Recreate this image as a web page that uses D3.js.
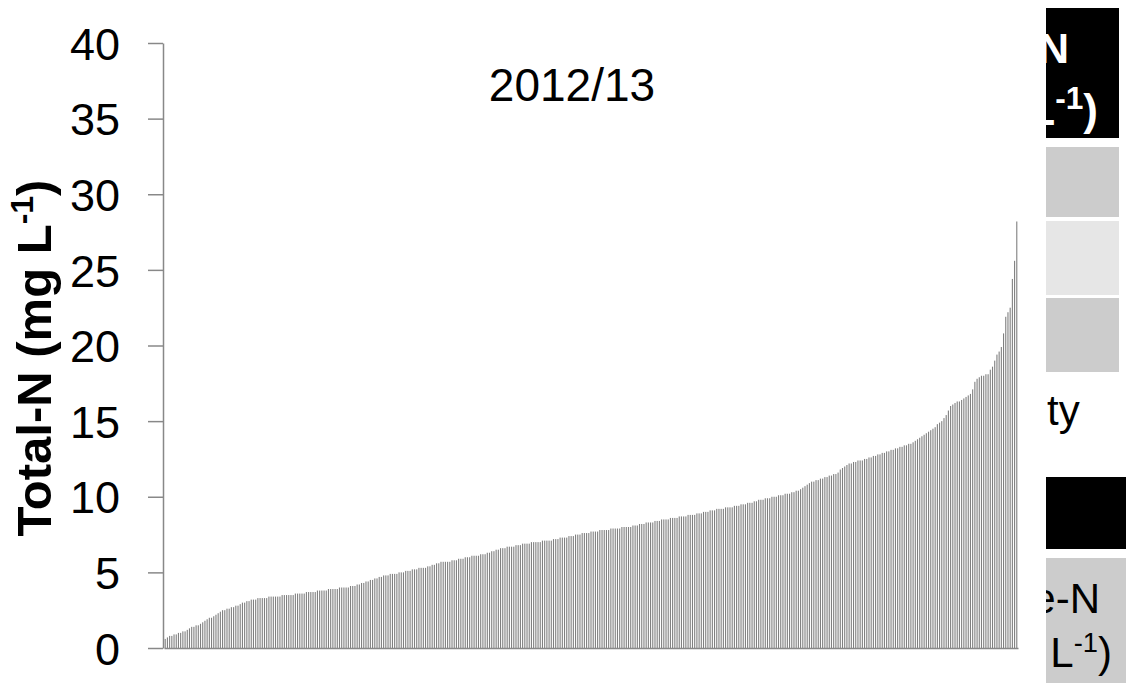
<!DOCTYPE html>
<html lang="en">
<head>
  <meta charset="UTF-8">
  <title>Total-N 2012/13</title>
  <style>
    body {
      margin: 0;
      padding: 0;
      background: #fff;
      font-family: "Liberation Sans", Arial, sans-serif;
    }
    svg { display: block; }
    .axis path, .axis line { stroke: #888; stroke-width: 1.5px; }
    .axis text { font-family: "Liberation Sans", Arial, sans-serif; fill: #000; }
  </style>
</head>
<body>
  <svg width="1126" height="683"></svg>

  <script src="https://d3js.org/d3.v7.min.js"></script>
  <script>
    // sorted Total-N values (mg L-1), one per site
    const totalN = [
      0.6, 0.7, 0.8, 0.8, 0.9, 0.9, 1.0, 1.0, 1.1, 1.1,
      1.2, 1.3, 1.4, 1.4, 1.5, 1.5, 1.6, 1.7, 1.8, 1.9,
      2.0, 2.0, 2.1, 2.2, 2.3, 2.4, 2.5, 2.5, 2.6, 2.6,
      2.7, 2.7, 2.8, 2.8, 2.9, 3.0, 3.0, 3.1, 3.1, 3.2,
      3.2, 3.2, 3.3, 3.3, 3.3, 3.3, 3.3, 3.4, 3.4, 3.4,
      3.4, 3.4, 3.4, 3.5, 3.5, 3.5, 3.5, 3.5, 3.5, 3.6,
      3.6, 3.6, 3.6, 3.6, 3.7, 3.7, 3.7, 3.7, 3.7, 3.8,
      3.8, 3.8, 3.8, 3.8, 3.9, 3.9, 3.9, 3.9, 3.9, 4.0,
      4.0, 4.0, 4.0, 4.0, 4.1, 4.1, 4.1, 4.2, 4.2, 4.3,
      4.3, 4.4, 4.4, 4.5, 4.5, 4.6, 4.6, 4.7, 4.7, 4.8,
      4.8, 4.8, 4.9, 4.9, 4.9, 4.9, 5.0, 5.0, 5.0, 5.1,
      5.1, 5.1, 5.2, 5.2, 5.2, 5.3, 5.3, 5.3, 5.3, 5.4,
      5.4, 5.5, 5.5, 5.6, 5.6, 5.7, 5.7, 5.7, 5.7, 5.7,
      5.8, 5.8, 5.8, 5.9, 5.9, 5.9, 6.0, 6.0, 6.0, 6.1,
      6.1, 6.1, 6.1, 6.2, 6.2, 6.2, 6.3, 6.3, 6.4, 6.4,
      6.5, 6.5, 6.6, 6.6, 6.6, 6.7, 6.7, 6.7, 6.7, 6.8,
      6.8, 6.8, 6.9, 6.9, 6.9, 6.9, 7.0, 7.0, 7.0, 7.0,
      7.0, 7.1, 7.1, 7.1, 7.1, 7.1, 7.2, 7.2, 7.2, 7.3,
      7.3, 7.3, 7.3, 7.4, 7.4, 7.4, 7.5, 7.5, 7.5, 7.6,
      7.6, 7.6, 7.6, 7.7, 7.7, 7.7, 7.7, 7.8, 7.8, 7.8,
      7.8, 7.8, 7.9, 7.9, 7.9, 7.9, 7.9, 8.0, 8.0, 8.0,
      8.0, 8.0, 8.1, 8.1, 8.1, 8.2, 8.2, 8.2, 8.3, 8.3,
      8.3, 8.3, 8.4, 8.4, 8.4, 8.5, 8.5, 8.5, 8.5, 8.6,
      8.6, 8.6, 8.6, 8.7, 8.7, 8.7, 8.7, 8.8, 8.8, 8.8,
      8.8, 8.9, 8.9, 8.9, 9.0, 9.0, 9.0, 9.1, 9.1, 9.1,
      9.2, 9.2, 9.2, 9.2, 9.3, 9.3, 9.3, 9.3, 9.4, 9.4,
      9.4, 9.5, 9.5, 9.5, 9.6, 9.6, 9.6, 9.7, 9.7, 9.8,
      9.8, 9.8, 9.9, 9.9, 9.9, 10.0, 10.0, 10.0, 10.1, 10.1,
      10.1, 10.2, 10.2, 10.2, 10.3, 10.3, 10.4, 10.4, 10.5, 10.6,
      10.7, 10.8, 10.9, 11.0, 11.0, 11.1, 11.1, 11.2, 11.2, 11.3,
      11.3, 11.4, 11.4, 11.5, 11.5, 11.6, 11.8, 11.9, 12.0, 12.1,
      12.2, 12.2, 12.3, 12.3, 12.4, 12.4, 12.4, 12.5, 12.5, 12.6,
      12.6, 12.7, 12.7, 12.8, 12.8, 12.9, 12.9, 13.0, 13.0, 13.1,
      13.1, 13.2, 13.2, 13.3, 13.3, 13.4, 13.4, 13.5, 13.5, 13.6,
      13.7, 13.8, 13.9, 14.0, 14.1, 14.2, 14.3, 14.4, 14.5, 14.6,
      14.8, 14.9, 15.0, 15.2, 15.4, 15.7, 16.0, 16.1, 16.2, 16.3,
      16.3, 16.4, 16.5, 16.6, 16.7, 16.8, 17.1, 17.6, 17.8, 17.9,
      18.0, 18.0, 18.1, 18.1, 18.4, 18.6, 19.0, 19.4, 19.6, 19.9,
      20.8, 21.9, 22.2, 22.5, 24.4, 25.6, 28.2
    ];
    const yTicks = [0, 5, 10, 15, 20, 25, 30, 35, 40];
    const title = "2012/13";

    // pieces of the table that sits behind the chart, cut off at its left edge
    const cellTops = [8, 147, 221, 298, 477, 558];
    const cellBottoms = [138, 217, 295, 372, 549, 683];
    const cellRights = [1119, 1119, 1119, 1119, 1126, 1126];
    const cellFills = ["#000", "#ccc", "#e6e6e6", "#ccc", "#000", "#ccc"];

    const svg = d3.select("svg");
    const font = "'Liberation Sans', Arial, sans-serif";

    const y = d3.scaleLinear().domain([0, 40]).range([648, 43]);
    const x = d3.scaleBand()
      .domain(d3.range(totalN.length))
      .range([164, 1018])
      .paddingInner(0.5)
      .paddingOuter(0.3);

    // bars
    svg.append("g")
      .selectAll("rect")
      .data(totalN)
      .join("rect")
      .attr("x", (d, i) => x(i))
      .attr("width", x.bandwidth())
      .attr("y", d => y(d))
      .attr("height", d => y(0) - y(d))
      .attr("fill", "#808080");

    // y axis
    const yAxis = svg.append("g")
      .attr("class", "axis")
      .attr("transform", "translate(163,0)")
      .call(d3.axisLeft(y).tickValues(yTicks).tickSize(15).tickSizeOuter(0).tickPadding(28));
    yAxis.selectAll("text")
      .attr("font-size", 45)
      .attr("dy", "0.36em");

    // baseline
    svg.append("g")
      .attr("class", "axis")
      .attr("transform", `translate(0,${y(0)})`)
      .call(d3.axisBottom(x).tickValues([]).tickSizeOuter(0));

    // y axis title
    const yTitle = svg.append("text")
      .attr("transform", `translate(51,${358}) rotate(-90)`)
      .attr("text-anchor", "middle")
      .attr("font-family", font)
      .attr("font-weight", "bold")
      .attr("font-size", 49)
      .text("Total-N (mg L");
    yTitle.append("tspan").attr("font-size", 32).attr("dy", -18).text("-1");
    yTitle.append("tspan").attr("dy", 18).text(")");

    // chart title
    svg.append("text")
      .attr("x", 572)
      .attr("y", 101)
      .attr("text-anchor", "middle")
      .attr("font-family", font)
      .attr("font-size", 46)
      .text(title);

    // table fragment on the right
    svg.append("clipPath").attr("id", "tableClip")
      .append("rect").attr("x", 1046).attr("y", 0).attr("width", 80).attr("height", 683);

    const table = svg.append("g").attr("clip-path", "url(#tableClip)");

    table.selectAll("rect")
      .data(cellFills)
      .join("rect")
      .attr("x", 1046)
      .attr("y", (d, i) => cellTops[i])
      .attr("width", (d, i) => cellRights[i] - 1046)
      .attr("height", (d, i) => cellBottoms[i] - cellTops[i])
      .attr("fill", d => d);

    function unitLabel(g, xEnd, yBase, size, colour, weight, supScale) {
      const t = g.append("text")
        .attr("x", xEnd)
        .attr("y", yBase)
        .attr("text-anchor", "end")
        .attr("font-family", font)
        .attr("font-weight", weight)
        .attr("font-size", size)
        .attr("fill", colour)
        .text("(mg L");
      t.append("tspan").attr("font-size", size * supScale).attr("dy", -size * 0.36).text("-1");
      t.append("tspan").attr("dy", size * 0.36).text(")");
    }

    table.append("text")
      .attr("x", 1069).attr("y", 63)
      .attr("text-anchor", "end")
      .attr("font-family", font).attr("font-weight", "bold")
      .attr("font-size", 43).attr("fill", "#fff")
      .text("Total-N");
    unitLabel(table, 1098, 125, 44, "#fff", "bold", 0.72);

    table.append("text")
      .attr("x", 1047).attr("y", 425)
      .attr("font-family", font)
      .attr("font-size", 42)
      .text("ty");

    table.append("text")
      .attr("x", 1100).attr("y", 613)
      .attr("text-anchor", "end")
      .attr("font-family", font)
      .attr("font-size", 42)
      .text("Nitrate-N");
    unitLabel(table, 1112, 667, 42, "#000", "normal", 0.65);
  </script>
</body>
</html>
